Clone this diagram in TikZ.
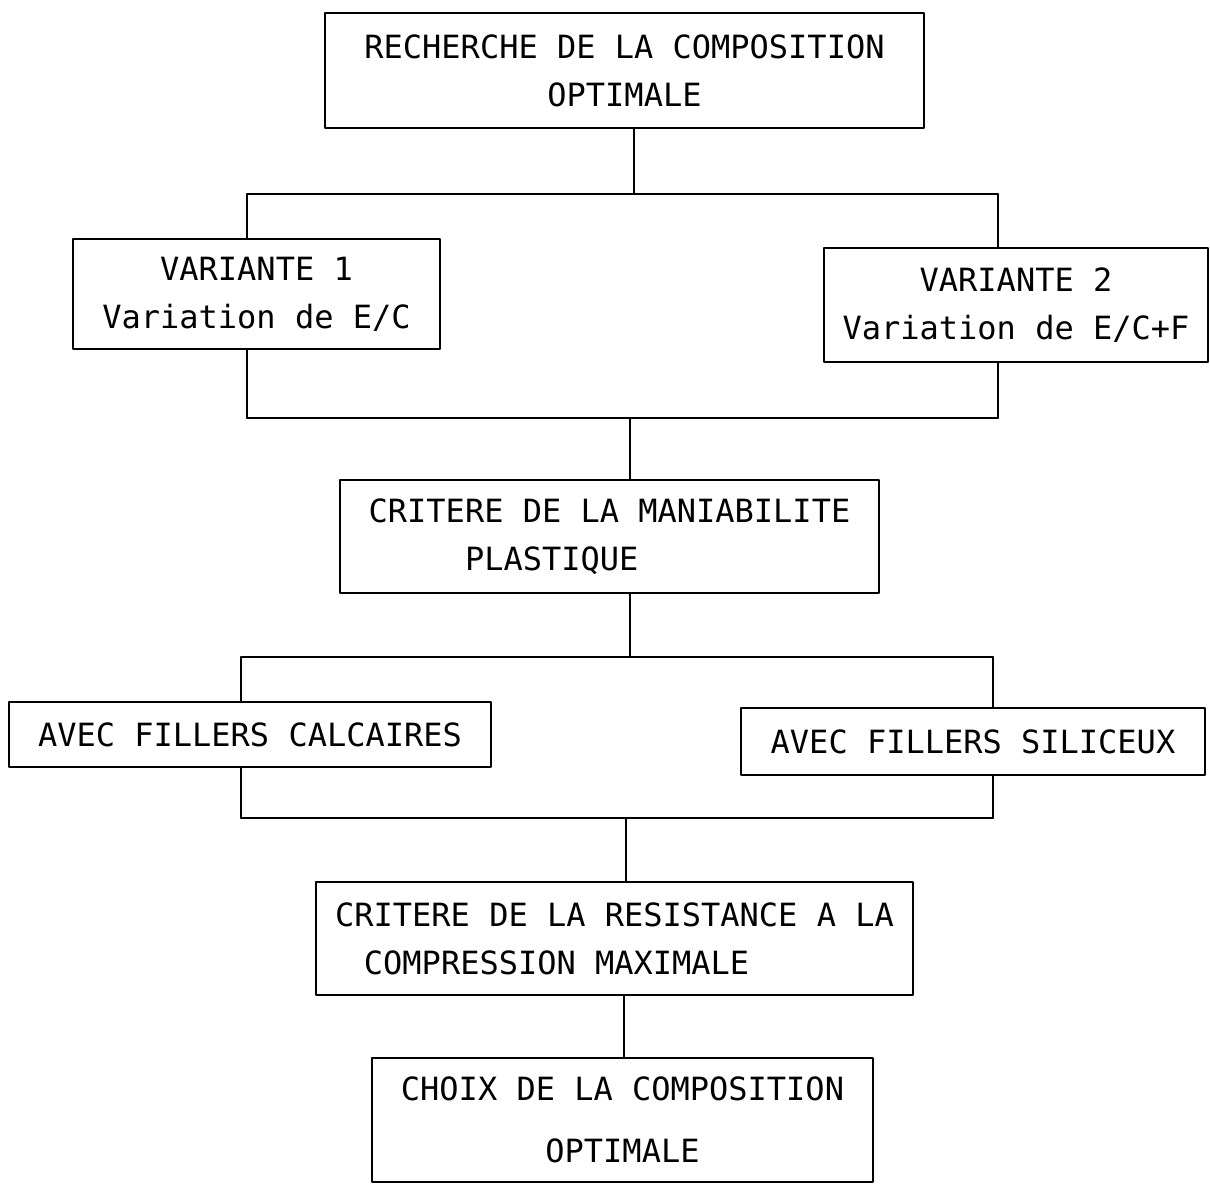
\documentclass[tikz,border=0pt]{standalone}
\usepackage{fontspec}
\newfontfamily\plotter{DejaVu Sans Mono}
\begin{document}
\begin{tikzpicture}[x=0.5pt,y=-0.5pt,line join=round,line cap=round,line width=0.8pt,
	bloc/.style={draw,inner sep=0pt,align=center,font={\plotter\fontsize{16}{24}\selectfont}}]
	\useasboundingbox (0,0) rectangle (1210,1186);
	% boites
	\node[bloc,minimum width=299.5pt,minimum height=57.5pt] (rech) at (624.5,70.5) {RECHERCHE DE LA COMPOSITION\\OPTIMALE};
	\node[bloc,minimum width=183.5pt,minimum height=55pt] (var1) at (256.5,294) {VARIANTE 1\\Variation de E/C};
	\node[bloc,minimum width=192pt,minimum height=57pt] (var2) at (1016,305) {VARIANTE 2\\Variation de E/C+F};
	\node[bloc,minimum width=269.5pt,minimum height=56.5pt,align=left] (mani) at (609.5,536.5) {CRITERE DE LA MANIABILITE\\\phantom{CRITE}PLASTIQUE};
	\node[bloc,minimum width=241pt,minimum height=32.5pt] (calc) at (250,734.5) {AVEC FILLERS CALCAIRES};
	\node[bloc,minimum width=232pt,minimum height=33.5pt] (sili) at (973,741.5) {AVEC FILLERS SILICEUX};
	\node[bloc,minimum width=298.5pt,minimum height=56.5pt,align=left] (resi) at (614.5,938.5) {CRITERE DE LA RESISTANCE A LA\\\hspace*{0.9em}COMPRESSION MAXIMALE};
	\node[bloc,minimum width=250.5pt,minimum height=62pt] (choix) at (622.5,1120) {CHOIX DE LA COMPOSITION\\[7pt]OPTIMALE};
	% liaisons
	\foreach \n/\g/\d/\m/\y in {1/247/998/634/194,2/247/998/630/418,3/241/993/630/657,4/241/993/626/818}{
		\coordinate (g\n) at (\g,\y);
		\coordinate (d\n) at (\d,\y);
		\coordinate (m\n) at (\m,\y);
		\draw (g\n) -- (d\n);
	}
	\draw (rech.south -| m1) -- (m1);
	\draw (var1.north -| g1) -- (g1) (d1) -- (var2.north -| d1);
	\draw (var1.south -| g2) -- (g2) (d2) -- (var2.south -| d2);
	\draw (m2) -- (mani.north -| m2);
	\draw (mani.south -| m3) -- (m3);
	\draw (calc.north -| g3) -- (g3) (d3) -- (sili.north -| d3);
	\draw (calc.south -| g4) -- (g4) (d4) -- (sili.south -| d4);
	\draw (m4) -- (resi.north -| m4);
	\coordinate (m5) at (624,0);
	\draw (resi.south -| m5) -- (choix.north -| m5);
\end{tikzpicture}
\end{document}
